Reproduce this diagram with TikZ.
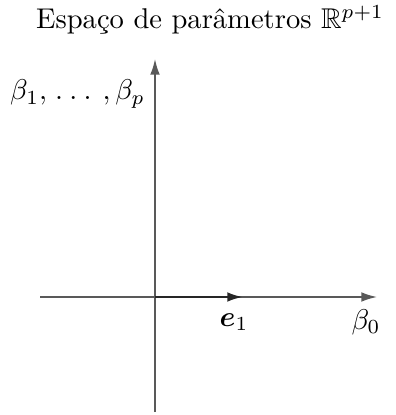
\documentclass[tikz,border=0pt]{standalone}
\usepackage{amssymb}
\usepackage{bm}
\usetikzlibrary{arrows.meta}
\begin{document}
\begin{tikzpicture}[x=0.35pt,y=-0.35pt,
  axis/.style={draw=black!65,line width=0.6pt,-{Latex[length=5.5pt,width=3.4pt]}},
  vec/.style={draw=black!85,line width=0.9pt,-{Latex[length=5.5pt,width=3.4pt]}},
  lbl/.style={inner sep=0pt}]
\useasboundingbox (0,0) rectangle (396,415);
\coordinate (O) at (155,297);
\coordinate (xs) at (40,297);
\coordinate (xe) at (377,297);
\coordinate (ys) at (155,412);
\coordinate (ye) at (155,59);
\coordinate (e1) at (243,297);
\draw[axis] (xs) -- (xe);
\draw[axis] (ys) -- (ye);
\draw[vec] (O) -- (e1);
\node[lbl] (title) at (210,20) {Espaço de parâmetros $\mathbb{R}^{p+1}$};
\node[lbl] (yl) at (77.5,94) {$\beta_1,\mkern2mu.\mkern4mu.\mkern4mu.\mkern7mu,\beta_p$};
\node[lbl] (el) at (234,322) {$\bm{e}_1$};
\node[lbl] (bl) at (366,322) {$\beta_0$};
\end{tikzpicture}
\end{document}
